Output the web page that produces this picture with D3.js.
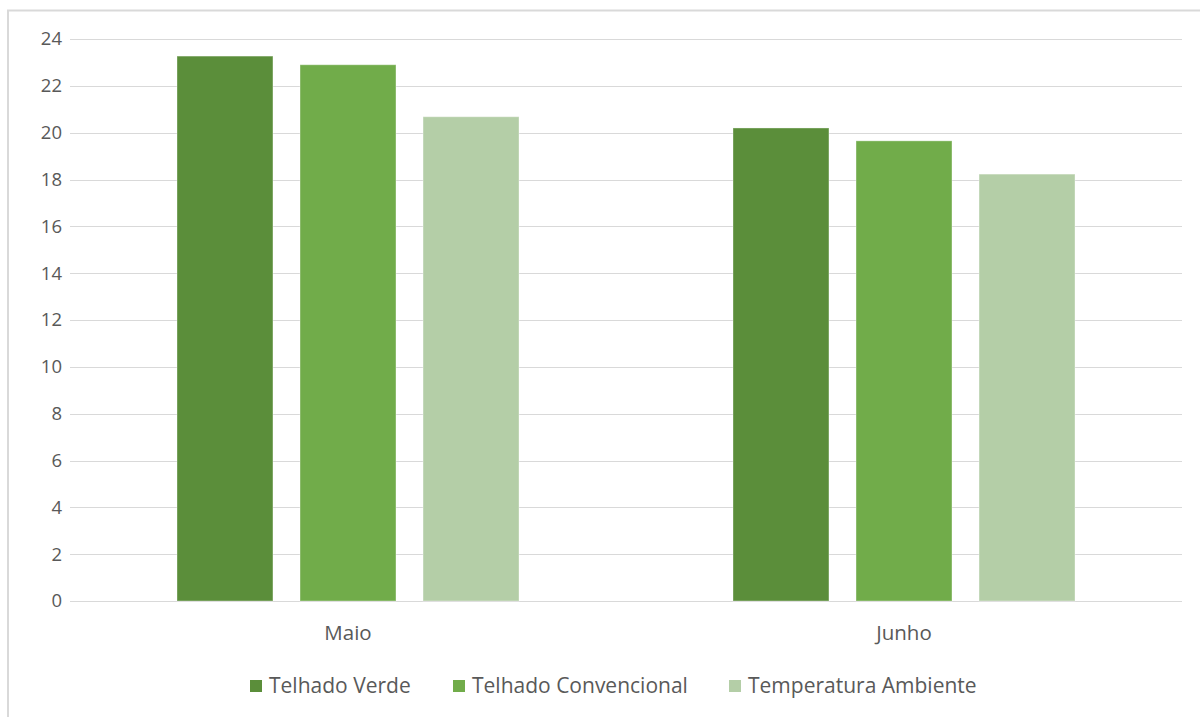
<!DOCTYPE html>
<html>
<head>
<meta charset="utf-8">
<script src="https://cdn.jsdelivr.net/npm/d3@7"></script>
<style>
  html, body { margin: 0; padding: 0; background: #fff; }
  svg { display: block; }
  text { font-family: "Open Sans", "Noto Sans", sans-serif; fill: #595959; }
</style>
</head>
<body>
<script>
// Monthly temperatures (°C) for each roof type and ambient air
const categories = ["Maio", "Junho"];
const seriesNames = ["Telhado Verde", "Telhado Convencional", "Temperatura Ambiente"];
const telhadoVerde = [23.27, 20.2];
const telhadoConvencional = [22.9, 19.65];
const temperaturaAmbiente = [20.68, 18.23];
const yTicks = [0, 2, 4, 6, 8, 10, 12, 14, 16, 18, 20, 22, 24];
const colors = ["#5B8E3A", "#71AC4A", "#B4CEA7"];

const seriesValues = [telhadoVerde, telhadoConvencional, temperaturaAmbiente];

const W = 1200, H = 717;
const plot = { left: 70, right: 1182, top: 39, bottom: 601 };
const fontStack = "'Open Sans', 'Noto Sans', sans-serif";

const svg = d3.select("body").append("svg").attr("width", W).attr("height", H);

// Chart frame (top and left edges visible)
svg.append("line").attr("x1", 7).attr("x2", W).attr("y1", 10.5).attr("y2", 10.5)
  .attr("stroke", "#d9d9d9").attr("stroke-width", 2);
svg.append("line").attr("x1", 8).attr("x2", 8).attr("y1", 10).attr("y2", H)
  .attr("stroke", "#d9d9d9").attr("stroke-width", 2);

const y = d3.scaleLinear().domain([0, 24]).range([plot.bottom, plot.top]);
const x0 = d3.scaleBand().domain(categories).range([plot.left, plot.right]).padding(0);
const groupHalf = 171;
const x1 = d3.scaleBand().domain(seriesNames).range([-groupHalf, groupHalf])
  .paddingInner(0.22).paddingOuter(0);

// Gridlines
svg.append("g").selectAll("line").data(yTicks).join("line")
  .attr("x1", plot.left).attr("x2", plot.right)
  .attr("y1", d => Math.round(y(d)) + 0.5).attr("y2", d => Math.round(y(d)) + 0.5)
  .attr("stroke", "#d9d9d9").attr("stroke-width", 1);

// Y axis labels
const yAxis = d3.axisLeft(y).tickValues(yTicks).tickSize(0).tickPadding(0);
const gy = svg.append("g").attr("transform", `translate(${plot.left - 8},0)`).call(yAxis);
gy.select(".domain").remove();
gy.selectAll("text").attr("font-size", 18.5).attr("fill", "#595959")
  .style("font-family", fontStack);

// Bars
const groups = svg.append("g").selectAll("g").data(categories).join("g")
  .attr("transform", d => `translate(${x0(d) + x0.bandwidth() / 2},0)`);

groups.selectAll("rect")
  .data((c, ci) => seriesNames.map((s, si) => ({ s, si, v: seriesValues[si][ci] })))
  .join("rect")
  .attr("x", d => x1(d.s))
  .attr("width", x1.bandwidth())
  .attr("y", d => y(d.v))
  .attr("height", d => plot.bottom - y(d.v))
  .attr("fill", d => colors[d.si])
  .attr("stroke", "#ffffff").attr("stroke-opacity", 0.35).attr("stroke-width", 1);

// Category labels
const xAxis = d3.axisBottom(x0).tickSize(0).tickPadding(0);
const gx = svg.append("g").attr("transform", `translate(0,${plot.bottom + 24})`).call(xAxis);
gx.select(".domain").remove();
gx.selectAll("text").attr("font-size", 20.5).attr("fill", "#595959")
  .style("font-family", fontStack);

// Legend
const legendX = [250, 453, 729];
const legend = svg.append("g").selectAll("g").data(seriesNames).join("g")
  .attr("transform", (d, i) => `translate(${legendX[i]},686)`);
legend.append("rect").attr("x", 0).attr("y", -6).attr("width", 12).attr("height", 12)
  .attr("fill", (d, i) => colors[i]);
legend.append("text").attr("x", 19).attr("y", 0).attr("dy", "0.35em")
  .attr("font-size", 21).text(d => d);
</script>
</body>
</html>
